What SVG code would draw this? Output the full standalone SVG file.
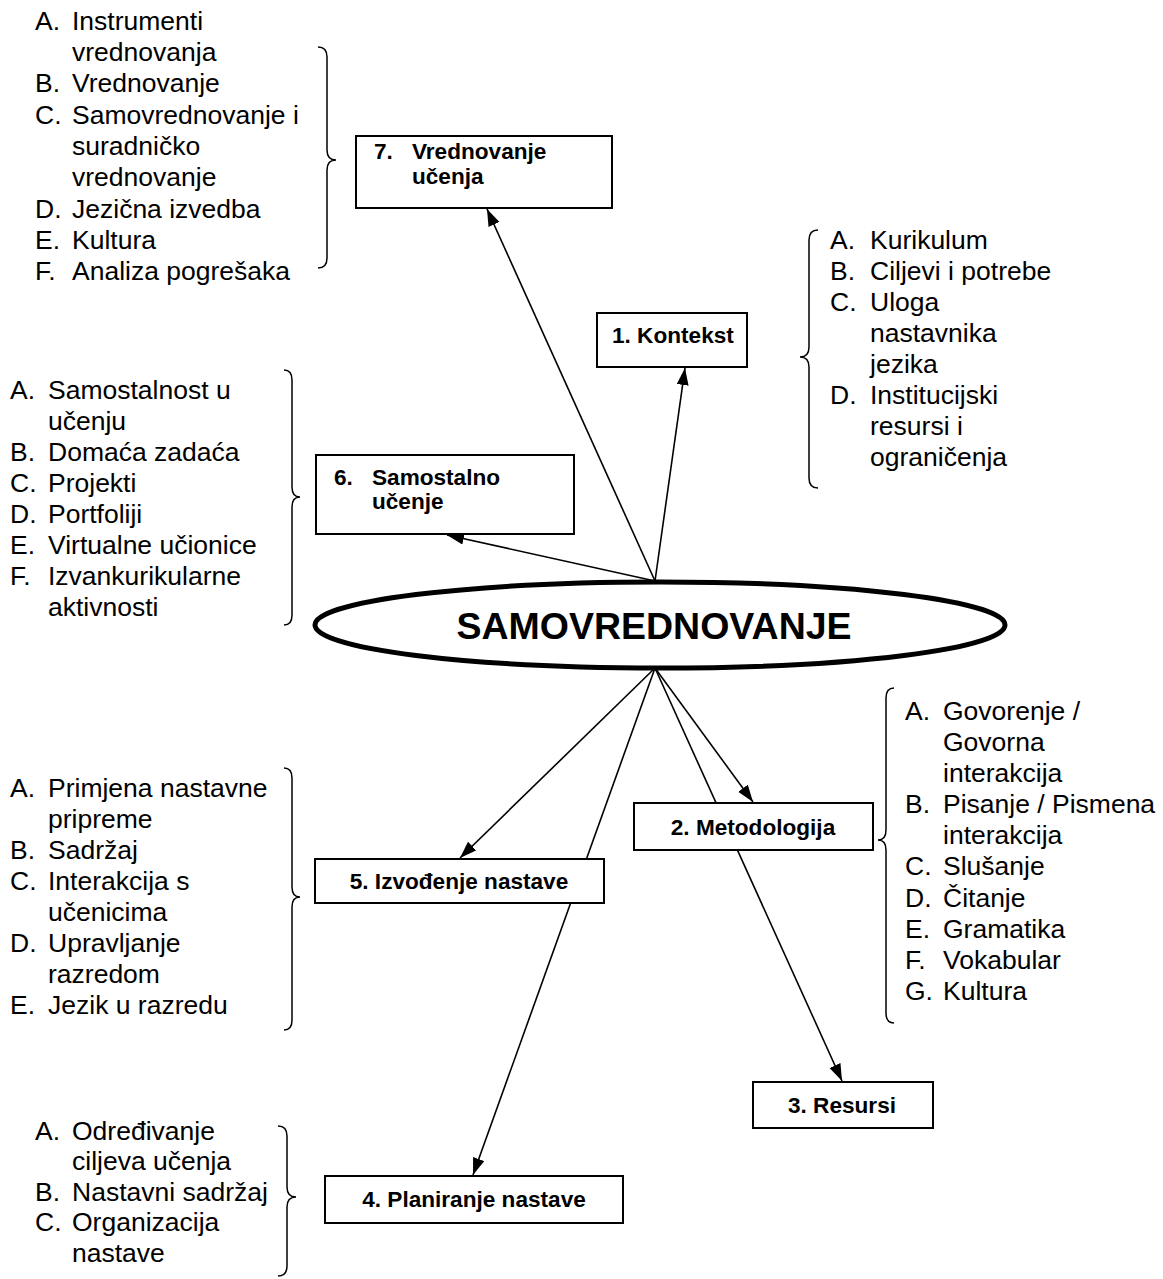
<svg xmlns="http://www.w3.org/2000/svg" width="1163" height="1279" viewBox="0 0 1163 1279">
<style>
.list{font-family:"Liberation Sans",Arial,sans-serif;font-size:26.5px;fill:#000}
.lbl{font-family:"Liberation Sans",Arial,sans-serif;font-size:22.6px;font-weight:bold;fill:#000}
.box{fill:#fff;stroke:#000;stroke-width:2}
.brace{fill:none;stroke:#000;stroke-width:1.5}
.conn{fill:none;stroke:#000;stroke-width:1.6}
</style>
<defs>
<marker id="ah" markerUnits="userSpaceOnUse" markerWidth="18" markerHeight="14" refX="17" refY="6" orient="auto">
<path d="M0,0 L17,6 L0,12 z" fill="#000"/>
</marker>
</defs>
<rect width="1163" height="1279" fill="#fff"/>

<g id="connectors">
<line class="conn" x1="655" y1="581" x2="487" y2="209" marker-end="url(#ah)"/>
<line class="conn" x1="655" y1="581" x2="685" y2="368" marker-end="url(#ah)"/>
<line class="conn" x1="655" y1="581" x2="447" y2="535" marker-end="url(#ah)"/>
<line class="conn" x1="655" y1="668" x2="753" y2="802" marker-end="url(#ah)"/>
<line class="conn" x1="655" y1="668" x2="842" y2="1081" marker-end="url(#ah)"/>
<line class="conn" x1="655" y1="668" x2="460" y2="858" marker-end="url(#ah)"/>
<line class="conn" x1="655" y1="668" x2="473" y2="1175" marker-end="url(#ah)"/>
</g>

<g id="center">
<ellipse cx="660" cy="625" rx="345" ry="43" fill="#fff" stroke="#000" stroke-width="5"/>
<text x="654" y="639" text-anchor="middle" style="font-family:'Liberation Sans',Arial,sans-serif;font-size:37.5px;font-weight:bold">SAMOVREDNOVANJE</text>
</g>

<g id="node7">
<rect class="box" x="356" y="136" width="256" height="72"/>
<text class="lbl" x="374" y="159">7.</text>
<text class="lbl" x="412" y="159">Vrednovanje</text>
<text class="lbl" x="412" y="184">učenja</text>
</g>
<g id="list7">
<path class="brace" d="M318,47 Q327,47 327,57 L327,150 Q327,160 336,160 Q327,160 327,170 L327,258 Q327,268 318,268"/>
<text class="list" x="35" y="30">A.</text><text class="list" x="72" y="30">Instrumenti</text>
<text class="list" x="72" y="61">vrednovanja</text>
<text class="list" x="35" y="92">B.</text><text class="list" x="72" y="92">Vrednovanje</text>
<text class="list" x="35" y="124">C.</text><text class="list" x="72" y="124">Samovrednovanje i</text>
<text class="list" x="72" y="155">suradničko</text>
<text class="list" x="72" y="186">vrednovanje</text>
<text class="list" x="35" y="218">D.</text><text class="list" x="72" y="218">Jezična izvedba</text>
<text class="list" x="35" y="249">E.</text><text class="list" x="72" y="249">Kultura</text>
<text class="list" x="35" y="280">F.</text><text class="list" x="72" y="280">Analiza pogrešaka</text>
</g>

<g id="node1">
<rect class="box" x="597" y="313" width="150" height="54"/>
<text class="lbl" x="612" y="343">1. Kontekst</text>
</g>
<g id="list1">
<path class="brace" d="M818,230 Q809,230 809,240 L809,347 Q809,357 800,357 Q809,357 809,367 L809,478 Q809,488 818,488"/>
<text class="list" x="830" y="249">A.</text><text class="list" x="870" y="249">Kurikulum</text>
<text class="list" x="830" y="280">B.</text><text class="list" x="870" y="280">Ciljevi i potrebe</text>
<text class="list" x="830" y="311">C.</text><text class="list" x="870" y="311">Uloga</text>
<text class="list" x="870" y="342">nastavnika</text>
<text class="list" x="870" y="373">jezika</text>
<text class="list" x="830" y="404">D.</text><text class="list" x="870" y="404">Institucijski</text>
<text class="list" x="870" y="435">resursi i</text>
<text class="list" x="870" y="466">ograničenja</text>
</g>

<g id="node6">
<rect class="box" x="316" y="455" width="258" height="79"/>
<text class="lbl" x="334" y="485">6.</text>
<text class="lbl" x="372" y="485">Samostalno</text>
<text class="lbl" x="372" y="509">učenje</text>
</g>
<g id="list6">
<path class="brace" d="M284,370 Q292,370 292,380 L292,487 Q292,497 300,497 Q292,497 292,507 L292,615 Q292,625 284,625"/>
<text class="list" x="10" y="399">A.</text><text class="list" x="48" y="399">Samostalnost u</text>
<text class="list" x="48" y="430">učenju</text>
<text class="list" x="10" y="461">B.</text><text class="list" x="48" y="461">Domaća zadaća</text>
<text class="list" x="10" y="492">C.</text><text class="list" x="48" y="492">Projekti</text>
<text class="list" x="10" y="523">D.</text><text class="list" x="48" y="523">Portfoliji</text>
<text class="list" x="10" y="554">E.</text><text class="list" x="48" y="554">Virtualne učionice</text>
<text class="list" x="10" y="585">F.</text><text class="list" x="48" y="585">Izvankurikularne</text>
<text class="list" x="48" y="616">aktivnosti</text>
</g>

<g id="node2">
<rect class="box" x="634" y="803" width="239" height="47"/>
<text class="lbl" x="753" y="835" text-anchor="middle">2. Metodologija</text>
</g>
<g id="list2">
<path class="brace" d="M894,688 Q886,688 886,698 L886,830 Q886,840 878,840 Q886,840 886,850 L886,1013 Q886,1023 894,1023"/>
<text class="list" x="905" y="720">A.</text><text class="list" x="943" y="720">Govorenje /</text>
<text class="list" x="943" y="751">Govorna</text>
<text class="list" x="943" y="782">interakcija</text>
<text class="list" x="905" y="813">B.</text><text class="list" x="943" y="813">Pisanje / Pismena</text>
<text class="list" x="943" y="844">interakcija</text>
<text class="list" x="905" y="875">C.</text><text class="list" x="943" y="875">Slušanje</text>
<text class="list" x="905" y="907">D.</text><text class="list" x="943" y="907">Čitanje</text>
<text class="list" x="905" y="938">E.</text><text class="list" x="943" y="938">Gramatika</text>
<text class="list" x="905" y="969">F.</text><text class="list" x="943" y="969">Vokabular</text>
<text class="list" x="905" y="1000">G.</text><text class="list" x="943" y="1000">Kultura</text>
</g>

<g id="node5">
<rect class="box" x="315" y="859" width="289" height="44"/>
<text class="lbl" x="459" y="889" text-anchor="middle">5. Izvođenje nastave</text>
</g>
<g id="list5">
<path class="brace" d="M284,768 Q292,768 292,778 L292,887 Q292,897 300,897 Q292,897 292,907 L292,1020 Q292,1030 284,1030"/>
<text class="list" x="10" y="797">A.</text><text class="list" x="48" y="797">Primjena nastavne</text>
<text class="list" x="48" y="828">pripreme</text>
<text class="list" x="10" y="859">B.</text><text class="list" x="48" y="859">Sadržaj</text>
<text class="list" x="10" y="890">C.</text><text class="list" x="48" y="890">Interakcija s</text>
<text class="list" x="48" y="921">učenicima</text>
<text class="list" x="10" y="952">D.</text><text class="list" x="48" y="952">Upravljanje</text>
<text class="list" x="48" y="983">razredom</text>
<text class="list" x="10" y="1014">E.</text><text class="list" x="48" y="1014">Jezik u razredu</text>
</g>

<g id="node3">
<rect class="box" x="753" y="1082" width="180" height="46"/>
<text class="lbl" x="842" y="1113" text-anchor="middle">3. Resursi</text>
</g>

<g id="node4">
<rect class="box" x="325" y="1176" width="298" height="47"/>
<text class="lbl" x="474" y="1207" text-anchor="middle">4. Planiranje nastave</text>
</g>
<g id="list4">
<path class="brace" d="M278,1126 Q287,1126 287,1136 L287,1187 Q287,1197 296,1197 Q287,1197 287,1207 L287,1266 Q287,1276 278,1276"/>
<text class="list" x="35" y="1140">A.</text><text class="list" x="72" y="1140">Određivanje</text>
<text class="list" x="72" y="1170">ciljeva učenja</text>
<text class="list" x="35" y="1201">B.</text><text class="list" x="72" y="1201">Nastavni sadržaj</text>
<text class="list" x="35" y="1231">C.</text><text class="list" x="72" y="1231">Organizacija</text>
<text class="list" x="72" y="1262">nastave</text>
</g>
</svg>
